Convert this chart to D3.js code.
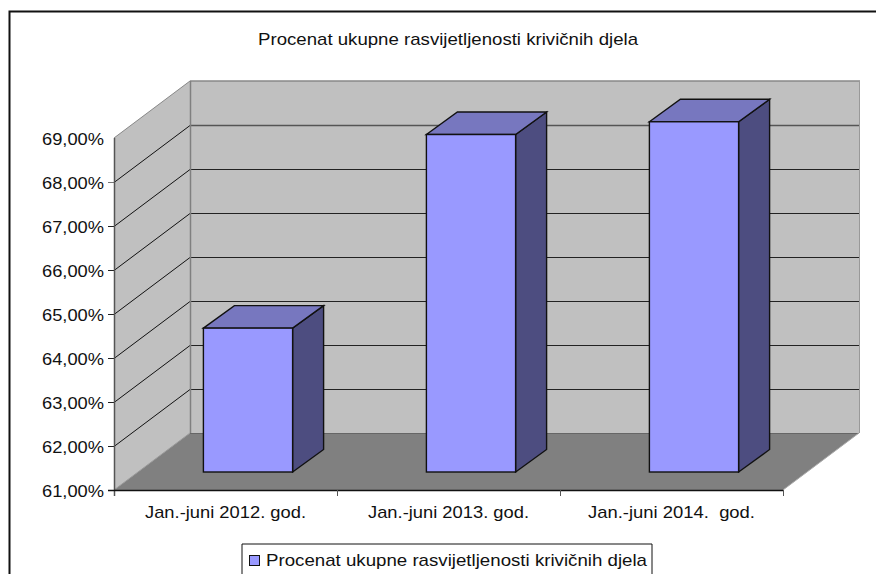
<!DOCTYPE html>
<html><head><meta charset="utf-8">
<script src="https://cdn.jsdelivr.net/npm/d3@7"></script>
<style>
html,body{margin:0;padding:0;background:#fff;overflow:hidden}
svg{display:block}
text{font-family:"Liberation Sans",Arial,sans-serif;fill:#111;white-space:pre}
</style></head><body>
<script>
const categories = ["Jan.-juni 2012. god.", "Jan.-juni 2013. god.", "Jan.-juni 2014.  god."];
const seriesName = "Procenat ukupne rasvijetljenosti krivičnih djela";
const values = [64.27, 68.67, 68.96];
const yTicks = [61, 62, 63, 64, 65, 66, 67, 68, 69];
const chartTitle = "Procenat ukupne rasvijetljenosti krivičnih djela";

const W = 876, H = 574;
const svg = d3.select("body").append("svg").attr("width", W).attr("height", H);
const y = d3.scaleLinear().domain([61, 69]).range([490, 138]);
const x = d3.scaleBand().domain(categories).range([114, 783]).paddingInner(0.6).paddingOuter(0.3);
const xStep = x.step();
const wallDx = 76, wallDy = -57;
const barFrontDx = 22.5, barFrontDy = -18, barDepthDx = 31, barDepthDy = -22.5;
const fmt = v => d3.format(".2f")(v).replace(".", ",") + "%";
const poly = pts => pts.map(p => p.join(",")).join(" ");
const line = (x1, y1, x2, y2, stroke, w = 1) => svg.append("line")
  .attr("x1", x1).attr("y1", y1).attr("x2", x2).attr("y2", y2)
  .attr("stroke", stroke).attr("stroke-width", w);
const label = (s, px, py, anchor, size, len) => svg.append("text")
  .attr("x", px).attr("y", py).attr("text-anchor", anchor)
  .attr("font-size", size).attr("textLength", len).attr("lengthAdjust", "spacingAndGlyphs").text(s);

// frame (cropped at right and bottom)
svg.append("path").attr("d", `M9.5,${H} V11.5 H${W}`).attr("fill", "none").attr("stroke", "#111").attr("stroke-width", 2);

const xL = 114, xR = 783, y0 = y(61), yT = y(69);
// walls
svg.append("polygon").attr("points", poly([[xL, y0], [xL + wallDx, y0 + wallDy], [xL + wallDx, yT + wallDy], [xL, yT]])).attr("fill", "#c0c0c0");
svg.append("polygon").attr("points", poly([[xL + wallDx, y0 + wallDy], [xR + wallDx + 1, y0 + wallDy], [xR + wallDx + 1, yT + wallDy], [xL + wallDx, yT + wallDy]])).attr("fill", "#c0c0c0");

// grid
yTicks.forEach(t => {
  const yy = Math.round(y(t)) + 0.5;
  if (t > 61 && t < 69) {
    line(xL, yy, xL + wallDx, yy + wallDy, "#111");
    line(xL + wallDx, yy + wallDy, xR + wallDx, yy + wallDy, t === 68 ? "#555" : "#222", t === 68 ? 1.5 : 1);
  }
  if (t < 69) line(xL - 6, yy, xL, yy, t === 68 ? "#777" : "#222");
  label(fmt(t), 104, yy + 6, "end", 17, 62);
});
// wall edges
line(xL, yT, xL + wallDx, yT + wallDy, "#888");
line(xL + wallDx, yT + wallDy, xR + wallDx + 1, yT + wallDy, "#888", 1.5);
line(xL + wallDx + .5, yT + wallDy, xL + wallDx + .5, y0 + wallDy, "#808080", 1.5);
line(xR + wallDx + .5, yT + wallDy, xR + wallDx + .5, y0 + wallDy, "#999", 1);
// floor
svg.append("polygon").attr("points", poly([[xL, y0], [xR, y0], [xR + wallDx, y0 + wallDy], [xL + wallDx, y0 + wallDy]])).attr("fill", "#808080");
line(xL + wallDx, y0 + wallDy + .5, xR + wallDx, y0 + wallDy + .5, "#666", 1.2);
line(xL, y0, xL + wallDx, y0 + wallDy, "#999");
line(xR, y0, xR + wallDx, y0 + wallDy, "#aaa");
// axes
line(xL + .5, yT, xL + .5, y0 + 6, "#555", 1.5);
line(xL - 6, y0 + .5, xR + .5, y0 + .5, "#111", 1.5);
d3.range(1, categories.length + 1).forEach(i => line(xL + i * xStep + .5, y0, xL + i * xStep + .5, y0 + 6, "#555"));

// bars
const bars = svg.selectAll("g.bar").data(categories).join("g").attr("class", "bar").attr("stroke", "#111").attr("stroke-width", 1.4).attr("stroke-linejoin", "miter");
bars.each(function (c, i) {
  const g = d3.select(this);
  const l = x(c) + barFrontDx, r = l + x.bandwidth(), b = y(61) + barFrontDy, t = y(values[i]) + barFrontDy;
  const dx = barDepthDx, dy = barDepthDy;
  g.append("polygon").attr("points", poly([[r, b], [r + dx, b + dy], [r + dx, t + dy], [r, t]])).attr("fill", "#4d4d80");
  g.append("polygon").attr("points", poly([[l, t], [r, t], [r + dx, t + dy], [l + dx, t + dy]])).attr("fill", "#7777bf");
  g.append("rect").attr("x", l).attr("y", t).attr("width", r - l).attr("height", b - t).attr("fill", "#9999ff");
});

// labels
categories.forEach((c, i) => {
  const cx = xL + (i + .5) * xStep;
  label(c, cx, 518, "middle", 17, i === 2 ? 167 : 161);
});
label(chartTitle, 258, 45, "start", 17, 380);

// legend (cropped at bottom)
svg.append("path").attr("d", `M242,${H} V544 H652 V${H}`).attr("fill", "#fff").attr("stroke", "#111").attr("stroke-width", 1);
svg.append("rect").attr("x", 249.5).attr("y", 555.5).attr("width", 10).attr("height", 10).attr("fill", "#9999ff").attr("stroke", "#111").attr("stroke-width", 1);
label(seriesName, 266, 566, "start", 17, 381);
</script>
</body></html>
